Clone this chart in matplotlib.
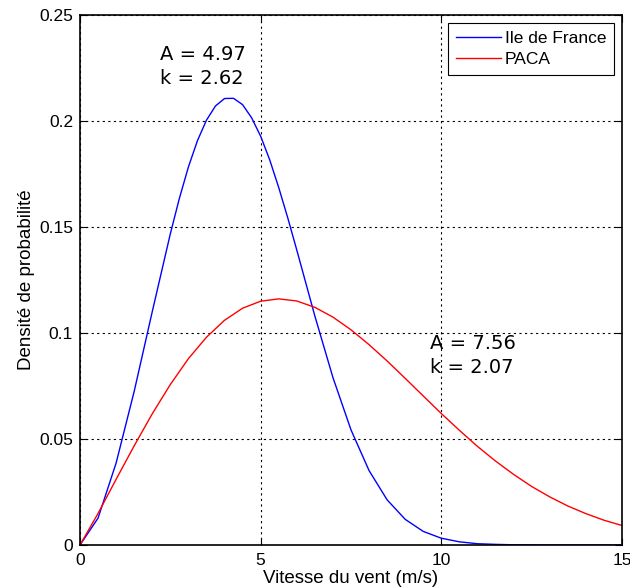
import matplotlib
matplotlib.use("Agg")
import matplotlib.pyplot as plt

# vitesse du vent (m/s)
vitesse_idf = [0, 0.5, 1, 1.5, 2, 2.5, 2.75, 3, 3.25, 3.5, 3.75, 4, 4.25, 4.5,
               4.75, 5, 5.25, 5.5, 5.75, 6, 6.5, 7, 7.5, 8, 8.5, 9, 9.5, 10,
               10.5, 11, 11.5, 12, 13, 14, 15]
idf = [0, 0.0127, 0.0387, 0.0725, 0.1101, 0.1468, 0.1635, 0.1783, 0.1907,
       0.2004, 0.2071, 0.2106, 0.2107, 0.2077, 0.2015, 0.1928, 0.1817,
       0.1686, 0.1543, 0.1391, 0.1080, 0.0790, 0.0543, 0.0351, 0.0213,
       0.0121, 0.0064, 0.0032, 0.0015, 0.0006, 0.0003, 0.0001, 0, 0, 0]
vitesse_paca = [0, 0.5, 1, 1.5, 2, 2.5, 3, 3.5, 4, 4.5, 5, 5.5, 6, 6.5, 7,
                7.5, 8, 8.5, 9, 9.5, 10, 10.5, 11, 11.5, 12, 12.5, 13, 13.5,
                14, 14.5, 15]
paca = [0, 0.0149, 0.0310, 0.0468, 0.0619, 0.0757, 0.0879, 0.0980, 0.1060,
        0.1117, 0.1150, 0.1161, 0.1151, 0.1121, 0.1075, 0.1015, 0.0945,
        0.0868, 0.0786, 0.0703, 0.0620, 0.0541, 0.0465, 0.0396, 0.0333,
        0.0276, 0.0227, 0.0184, 0.0148, 0.0117, 0.0092]
noms = ["Ile de France", "PACA"]
annot_idf = "A = 4.97\nk = 2.62"
annot_paca = "A = 7.56\nk = 2.07"

plt.rcParams['font.family'] = ['Liberation Sans', 'DejaVu Sans']

fig = plt.figure(figsize=(6.3, 5.87), dpi=100)
ax = fig.add_axes([80 / 630, 1 - 545 / 587, 542 / 630, 530 / 587])

ax.plot(vitesse_idf, idf, color='#0000ff', lw=1, label=noms[0])
ax.plot(vitesse_paca, paca, color='#ff0000', lw=1, label=noms[1])

ax.set_xlim(0, 15)
ax.set_ylim(0, 0.25)
ax.set_xticks([0, 5, 10, 15])
ax.set_yticks([0, 0.05, 0.1, 0.15, 0.2, 0.25])
ax.set_yticklabels(['0', '0.05', '0.1', '0.15', '0.2', '0.25'])
ax.grid(True, color='black', linestyle=(0, (2, 3)), lw=0.8)
ax.tick_params(direction='in', top=True, right=True, labelsize=12.5, length=5)
ax.tick_params(axis='x', pad=6)
ax.tick_params(axis='y', pad=5)
for s in ax.spines.values():
    s.set_linewidth(1.2)

ax.set_xlabel("Vitesse du vent (m/s)", fontsize=13.5, labelpad=1)
ax.set_ylabel("Densité de probabilité", fontsize=13.5, labelpad=3)

ax.text(2.21, 0.2358, annot_idf, family='DejaVu Sans', fontsize=14,
        va='top', linespacing=1.3)
ax.text(9.69, 0.0995, annot_paca, family='DejaVu Sans', fontsize=14,
        va='top', linespacing=1.3)

leg = ax.legend(loc='upper right', fontsize=12.5, fancybox=False, framealpha=1,
                edgecolor='black', borderpad=0.45, handlelength=2.6,
                handletextpad=0.2, labelspacing=0.35, borderaxespad=0.45)
leg.get_frame().set_linewidth(0.8)

fig.savefig("out.png", dpi=100)
